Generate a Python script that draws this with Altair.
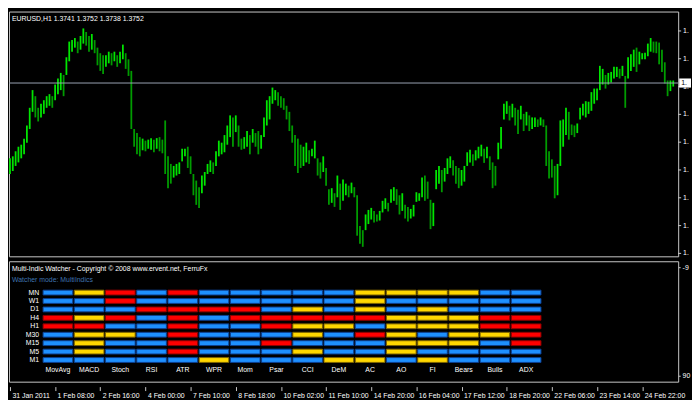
import json
import altair as alt
import pandas as pd

# ---------------- data ----------------
SYMBOL_LINE = "EURUSD,H1  1.3741 1.3752 1.3738 1.3752"
LAST_PRICE = 1.3752
PRICE_TICKS = [1.3415, 1.3470, 1.3525, 1.3580, 1.3635, 1.3690, 1.3745, 1.3800, 1.3855]

TIME_TICKS = [0, 32, 64, 96, 128, 160, 192, 224, 256, 288, 320, 352, 384, 416, 448]
TIME_LABELS = ["31 Jan 2011", "1 Feb 08:00", "2 Feb 16:00", "4 Feb 00:00", "7 Feb 10:00",
               "8 Feb 18:00", "10 Feb 02:00", "11 Feb 10:00", "14 Feb 20:00", "16 Feb 04:00",
               "17 Feb 12:00", "18 Feb 20:00", "22 Feb 06:00", "23 Feb 14:00", "24 Feb 22:00"]

# bar index in chart hours (0 = 31 Jan 2011 00:00), one entry per two H1 bars
BAR_HOURS = list(range(0, 472, 2))
# highs / lows in pips above 1.3400
HIGH_PIPS = [203, 207, 217, 226, 230, 242, 268, 303, 338, 326, 303, 311, 318, 326, 330, 326,
             349, 361, 372, 368, 403, 434, 437, 441, 434, 445, 460, 453, 445, 449, 437, 422,
             411, 407, 407, 414, 411, 414, 407, 414, 428, 411, 399, 376, 261, 253, 245, 242,
             238, 240, 243, 240, 243, 245, 240, 278, 207, 192, 188, 192, 195, 222, 222, 226,
             207, 172, 159, 146, 169, 176, 192, 199, 195, 217, 238, 234, 249, 268, 288, 284,
             288, 268, 242, 245, 257, 249, 261, 253, 257, 249, 284, 318, 326, 343, 338, 334,
             326, 322, 307, 295, 268, 249, 242, 230, 226, 234, 219, 222, 238, 203, 195, 207,
             184, 142, 144, 134, 169, 153, 161, 153, 149, 155, 146, 130, 69, 61, 92, 101,
             105, 99, 92, 99, 119, 124, 115, 142, 146, 142, 130, 134, 111, 107, 103, 111,
             136, 134, 165, 169, 157, 121, 115, 180, 188, 180, 184, 203, 207, 199, 188, 184,
             180, 188, 215, 220, 211, 219, 226, 230, 222, 226, 207, 195, 188, 234, 265, 311,
             316, 307, 311, 303, 299, 307, 291, 295, 288, 284, 284, 280, 284, 280, 268, 217,
             201, 188, 192, 278, 280, 303, 295, 270, 268, 272, 303, 311, 316, 315, 334, 341,
             341, 386, 380, 368, 372, 374, 384, 384, 380, 386, 366, 403, 409, 418, 422, 414,
             411, 412, 430, 441, 434, 434, 432, 418, 393, 357, 357, 357]
LOW_PIPS = [172, 178, 188, 195, 203, 211, 234, 261, 295, 284, 276, 284, 291, 303, 307, 303,
            318, 330, 338, 326, 368, 395, 414, 422, 411, 418, 430, 426, 414, 418, 411, 387,
            376, 370, 384, 391, 387, 395, 384, 391, 399, 380, 366, 261, 226, 211, 207, 219,
            217, 222, 220, 215, 222, 217, 213, 172, 144, 153, 165, 169, 172, 197, 207, 184,
            172, 130, 111, 105, 134, 149, 172, 176, 172, 188, 207, 211, 215, 230, 245, 226,
            255, 226, 220, 222, 226, 211, 234, 226, 211, 222, 245, 268, 280, 311, 318, 307,
            303, 299, 280, 257, 234, 188, 174, 184, 188, 195, 192, 207, 203, 169, 163, 176,
            149, 111, 115, 107, 126, 101, 119, 130, 126, 134, 126, 50, 34, 28, 61, 73,
            82, 76, 78, 80, 96, 103, 98, 115, 119, 111, 92, 99, 84, 78, 84, 88,
            117, 119, 126, 119, 123, 63, 69, 142, 153, 136, 157, 172, 184, 169, 153, 144,
            149, 157, 188, 195, 188, 199, 203, 207, 194, 203, 180, 144, 149, 201, 222, 280,
            291, 278, 284, 268, 251, 280, 257, 268, 257, 261, 265, 265, 268, 265, 188, 163,
            165, 124, 130, 188, 226, 249, 240, 249, 245, 253, 280, 288, 284, 291, 297, 311,
            318, 338, 349, 341, 349, 353, 361, 364, 361, 366, 303, 361, 376, 384, 374, 389,
            399, 399, 405, 414, 412, 411, 389, 374, 351, 326, 336, 345]

WATCHER_TITLE = "Multi-Indic Watcher - Copyright \u00a9 2008 www.ervent.net, FerruFx"
WATCHER_MODE = "Watcher mode: MultiIndics"
SUB_LEVELS = [-90, 90]
TIMEFRAMES = ["MN", "W1", "D1", "H4", "H1", "M30", "M15", "M5", "M1"]
INDICATORS = ["MovAvg", "MACD", "Stoch", "RSI", "ATR", "WPR", "Mom", "Psar",
              "CCI", "DeM", "AC", "AO", "FI", "Bears", "Bulls", "ADX"]
# B = blue, Y = yellow, R = red ; one string per timeframe row
SIGNALS = ["BYRBRBBBBBYYYYBB",
           "BBRBBBBBBBYBBBBB",
           "BBBRRRRBYBYBYBBB",
           "RYRBRBRRRRRYYYRR",
           "RRBBRBBRYYBYYYRR",
           "BYYBRBBBYBRYBYYR",
           "BYBBRBBRBBBYYYBR",
           "BYBBRBBBYBBYBBBB",
           "BBBBBYBBBYYBYBBB"]

# ---------------- layout / style ----------------
W = 678
H_TOP = 248
H_SUB = 122
FRAME = "#c8c8c8"
FS = 7
ROW_LEVEL0, ROW_STEP, ROW_HALF = -48, 14, 4   # sub-window level units
COL_HALF = 0.475                               # column units

# ---------------- tables ----------------
price = pd.DataFrame({
    "hour": BAR_HOURS,
    "high": [1.34 + p / 1e4 for p in HIGH_PIPS],
    "low": [1.34 + p / 1e4 for p in LOW_PIPS],
})
mid = (price["high"] + price["low"]) / 2
price["dir"] = ["up" if d >= 0 else "down" for d in mid.diff().fillna(0)]

cells = []
for r, tf in enumerate(TIMEFRAMES):
    lv = ROW_LEVEL0 + ROW_STEP * r
    for c, ind in enumerate(INDICATORS):
        cells.append({"tf": tf, "ind": ind, "state": SIGNALS[r][c],
                      "x0": c - COL_HALF, "x1": c + COL_HALF,
                      "y0": lv - ROW_HALF, "y1": lv + ROW_HALF})
cells = pd.DataFrame(cells)
row_lab = pd.DataFrame({"tf": TIMEFRAMES,
                        "lv": [ROW_LEVEL0 + ROW_STEP * r for r in range(len(TIMEFRAMES))]})
col_lab = pd.DataFrame({"ind": INDICATORS, "c": list(range(len(INDICATORS)))})
ticks_df = pd.DataFrame({"p": PRICE_TICKS})

x_time = alt.Scale(domain=[-0.69, 473.5], nice=False, zero=False)
y_price = alt.Scale(domain=[1.34092, 1.38934], nice=False, zero=False)

# ---------------- price window ----------------
bars = alt.Chart(price).mark_rule(strokeWidth=1.8).encode(
    x=alt.X("hour:Q", scale=x_time, axis=None),
    y=alt.Y("low:Q", scale=y_price, axis=None),
    y2="high:Q",
    color=alt.Color("dir:N", scale=alt.Scale(domain=["up", "down"],
                                             range=["#00e600", "#009c00"]), legend=None),
)
# right price scale (labels cut by the window edge like the terminal shows them)
tick_marks = alt.Chart(ticks_df).mark_rule(color=FRAME, strokeWidth=1).encode(
    x=alt.value(W), x2=alt.value(W + 3), y=alt.Y("p:Q", axis=None))
tick_labels = alt.Chart(ticks_df).transform_calculate(
    lab="substring(toString(datum.p), 0, 2)"
).mark_text(align="left", baseline="middle", color="white", fontSize=FS).encode(
    x=alt.value(W + 5), y=alt.Y("p:Q", axis=None), text="lab:N")

last_df = pd.DataFrame({"price": [LAST_PRICE], "top": [LAST_PRICE + 0.0009],
                        "bottom": [LAST_PRICE - 0.0009]})
last_line = alt.Chart(last_df).mark_rule(color="#9aa4b4", strokeWidth=1).encode(
    y=alt.Y("price:Q", axis=None))
last_box = alt.Chart(last_df).mark_rect(color="white").encode(
    x=alt.value(W + 1), x2=alt.value(W + 13),
    y=alt.Y("top:Q", axis=None), y2="bottom:Q")
last_txt = alt.Chart(last_df).mark_text(align="left", baseline="middle", color="black",
                                        fontSize=FS).encode(
    x=alt.value(W + 3), y=alt.Y("price:Q", axis=None), text=alt.value("1."))
sym_txt = alt.Chart(pd.DataFrame({"t": [SYMBOL_LINE]})).mark_text(
    align="left", baseline="middle", color="white", fontSize=FS).encode(
    x=alt.value(3), y=alt.value(8), text="t:N")

top = alt.layer(bars, tick_marks, tick_labels, last_line, last_box, last_txt,
                sym_txt).properties(width=W, height=H_TOP)

# ---------------- indicator sub-window ----------------
gx = alt.Scale(domain=[-1.567, 19.87], nice=False, zero=False)
gy = alt.Scale(domain=[-100, 100], reverse=True, nice=False, zero=False)

grid = alt.Chart(cells).mark_rect(strokeWidth=1).encode(
    x=alt.X("x0:Q", scale=gx, axis=None), x2="x1:Q",
    y=alt.Y("y0:Q", scale=gy, title=None,
            axis=alt.Axis(orient="right", values=SUB_LEVELS, tickSize=2, labelPadding=2,
                          labelOverlap=False,
                          labelExpr="(datum.value < 0 ? '-' : '') + slice(toString(abs(datum.value)), 0, datum.value < 0 ? 1 : 2)")),
    y2="y1:Q",
    fill=alt.Fill("state:N", scale=alt.Scale(domain=["B", "Y", "R"],
                                             range=["#1e90ff", "#ffd700", "#ff0000"]), legend=None),
    stroke=alt.Stroke("state:N", scale=alt.Scale(domain=["B", "Y", "R"],
                                                 range=["#0d3f8f", "#7d6400", "#8b0000"]), legend=None),
)
rows_txt = alt.Chart(row_lab).mark_text(align="right", baseline="middle", color="white",
                                        fontSize=FS).encode(
    x=alt.datum(-0.6), y=alt.Y("lv:Q"), text="tf:N")
cols_txt = alt.Chart(col_lab).mark_text(align="center", baseline="middle", color="white",
                                        fontSize=FS).encode(
    x=alt.X("c:Q"), y=alt.datum(81), text="ind:N")
head1 = alt.Chart(pd.DataFrame({"t": [WATCHER_TITLE]})).mark_text(
    align="left", baseline="middle", color="white", fontSize=FS).encode(
    x=alt.value(3), y=alt.value(8), text="t:N")
head2 = alt.Chart(pd.DataFrame({"t": [WATCHER_MODE]})).mark_text(
    align="left", baseline="middle", color="#3f74b0", fontSize=FS).encode(
    x=alt.value(3), y=alt.value(19.5), text="t:N")

sub = alt.layer(grid, rows_txt, cols_txt, head1, head2).properties(width=W, height=H_SUB)

# ---------------- shared time axis ----------------
time_df = pd.DataFrame({"hour": TIME_TICKS})
time_axis = alt.Chart(time_df).mark_rule(opacity=0).encode(
    x=alt.X("hour:Q", scale=x_time, title=None,
            axis=alt.Axis(orient="bottom", values=TIME_TICKS, offset=-4,
                          labelExpr="%s[indexof(%s, datum.value)]" % (json.dumps(TIME_LABELS),
                                                                      json.dumps(TIME_TICKS)),
                          labelAlign="left", labelBaseline="top", labelOffset=2,
                          labelPadding=1, tickSize=4, labelFlush=False, labelOverlap=False)),
).properties(width=W, height=1, view=alt.ViewBackground(stroke="transparent"))

chart = alt.vconcat(top, sub, time_axis, spacing=3, padding=0).configure(
    background="black", font="Liberation Sans"
).configure_view(
    stroke=FRAME, strokeWidth=1
).configure_axis(
    labelColor="white", tickColor=FRAME, labelFontSize=FS, domain=False, grid=False,
    labelFont="Liberation Sans"
)

chart.save("out.html", embed_options={"renderer": "svg", "actions": False})
